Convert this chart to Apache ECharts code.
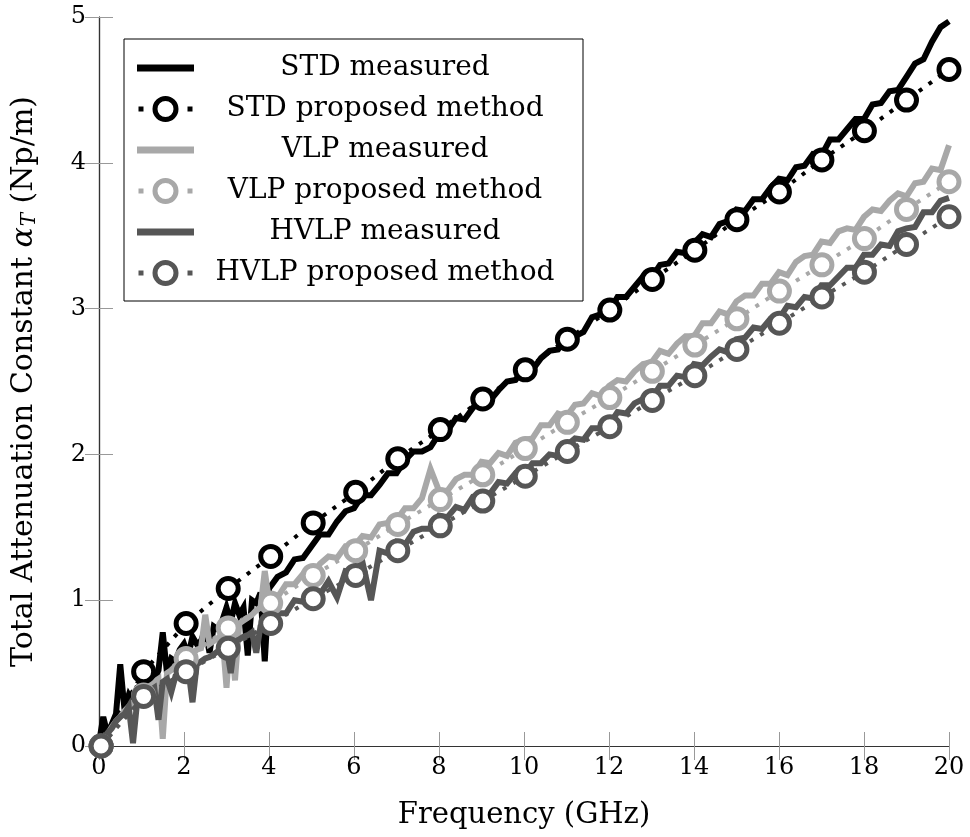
<!DOCTYPE html>
<html><head><meta charset="utf-8">
<script src="https://cdn.jsdelivr.net/npm/echarts@6/dist/echarts.min.js"></script>
<style>html,body{margin:0;padding:0;background:#fff}#c{width:970px;height:837px}</style>
</head><body><div id="c"></div>
<script>
// ---- data ----
const xTicks = [0, 2, 4, 6, 8, 10, 12, 14, 16, 18, 20];
const yTicks = [0, 1, 2, 3, 4, 5];
const measFreq = [0,0.1,0.2,0.3,0.4,0.5,0.6,0.7,0.8,0.9,1,1.1,1.2,1.3,1.4,1.5,1.6,1.7,1.8,1.9,2,2.1,2.2,2.3,2.4,2.5,2.6,2.7,2.8,2.9,3,3.1,3.2,3.3,3.4,3.5,3.6,3.7,3.8,3.9,4,
4.2,4.4,4.6,4.8,5,5.2,5.4,5.6,5.8,6,6.2,6.4,6.6,6.8,7,7.2,7.4,7.6,7.8,8,8.2,8.4,8.6,8.8,9,9.2,9.4,9.6,9.8,10,10.2,10.4,10.6,10.8,11,11.2,11.4,11.6,11.8,12,12.2,12.4,12.6,12.8,13,13.2,13.4,13.6,13.8,14,14.2,14.4,14.6,14.8,15,15.2,15.4,15.6,15.8,16,16.2,16.4,16.6,16.8,17,17.2,17.4,17.6,17.8,18,18.2,18.4,18.6,18.8,19,19.2,19.4,19.6,19.8,20];
const stdMeasured = [0.02,0.2,0.08,0.15,0.22,0.56,0.25,0.35,0.3,0.4,0.42,0.38,0.48,0.45,0.52,0.78,0.5,0.6,0.58,0.66,0.7,0.62,0.75,0.7,0.72,0.8,0.64,0.82,0.8,0.86,0.95,0.85,0.98,0.9,0.95,0.62,1.0,0.98,1.05,0.58,1.08,
1.16,1.19,1.28,1.29,1.37,1.45,1.45,1.54,1.61,1.63,
1.72,1.72,1.79,1.87,1.87,1.96,2.02,2.02,2.05,2.14,
2.16,2.25,2.24,2.32,2.39,2.37,2.44,2.50,2.51,2.59,
2.58,2.66,2.71,2.72,2.81,2.81,2.84,2.94,2.96,2.98,
3.08,3.08,3.15,3.22,3.21,3.30,3.31,3.39,3.38,3.45,
3.51,3.49,3.58,3.60,3.68,3.67,3.75,3.75,3.83,3.89,
3.88,3.97,3.98,4.06,4.05,4.16,4.16,4.23,4.30,4.30,
4.40,4.41,4.49,4.50,4.59,4.68,4.71,4.83,4.93,4.97];
const vlpMeasured = [0,0.05,0.08,0.13,0.17,0.2,0.24,0.27,0.3,0.33,0.36,0.38,0.42,0.44,0.46,0.05,0.5,0.52,0.55,0.58,0.6,0.62,0.64,0.66,0.67,0.9,0.7,0.72,0.74,0.77,0.4,0.8,0.45,0.84,0.86,0.88,0.9,0.93,0.95,1.2,1.0,
1.02,1.11,1.11,1.18,1.17,1.25,1.30,1.29,1.37,1.37,
1.44,1.43,1.52,1.53,1.55,1.63,1.63,1.70,1.90,1.75,
1.75,1.83,1.86,1.86,1.95,1.94,2.01,1.99,2.08,2.10,
2.11,2.20,2.20,2.28,2.26,2.34,2.35,2.42,2.40,2.47,
2.51,2.50,2.57,2.62,2.63,2.71,2.69,2.76,2.81,2.81,
2.90,2.90,2.98,2.96,3.05,3.09,3.09,3.17,3.17,3.25,
3.23,3.32,3.36,3.37,3.46,3.45,3.53,3.55,3.54,3.63,
3.68,3.67,3.74,3.79,3.77,3.86,3.87,3.96,3.95,4.12];
const hvlpMeasured = [0,0.05,0.09,0.12,0.17,0.2,0.22,0.27,0.02,0.31,0.34,0.35,0.38,0.4,0.18,0.44,0.46,0.37,0.48,0.5,0.52,0.53,0.3,0.56,0.58,0.6,0.61,0.63,0.65,0.66,0.68,0.5,0.72,0.73,0.75,0.76,0.78,0.64,0.82,0.84,0.86,
0.91,0.91,1.00,0.99,1.06,1.04,1.13,1.02,1.20,1.19,
1.26,1.00,1.34,1.32,1.40,1.38,1.47,1.49,1.49,1.58,
1.57,1.64,1.62,1.71,1.72,1.73,1.81,1.80,1.87,1.86,
1.94,1.94,2.00,1.99,2.06,2.11,2.10,2.18,2.18,2.20,
2.29,2.28,2.35,2.38,2.38,2.47,2.47,2.54,2.53,2.62,
2.61,2.67,2.72,2.70,2.79,2.80,2.87,2.86,2.93,2.93,
3.02,3.01,3.08,3.07,3.16,3.16,3.22,3.28,3.28,3.37,
3.37,3.44,3.43,3.53,3.55,3.56,3.66,3.66,3.74,3.76];
const propFreq = [0.05,1.05,2.05,3.04,4.04,5.04,6.04,7.03,8.03,9.03,10.03,11.02,12.02,13.02,14.02,15.01,16.01,17.01,18.01,19.0,20.0];
const stdProposed = [0,0.51,0.84,1.08,1.30,1.53,1.74,1.97,2.17,2.38,2.58,2.79,2.99,3.20,3.40,3.61,3.80,4.02,4.22,4.43,4.64];
const vlpProposed = [0,0.35,0.60,0.81,0.98,1.17,1.34,1.52,1.69,1.86,2.04,2.22,2.39,2.57,2.75,2.93,3.12,3.30,3.48,3.68,3.87];
const hvlpProposed = [0,0.34,0.51,0.67,0.84,1.01,1.17,1.34,1.51,1.68,1.85,2.02,2.19,2.37,2.54,2.72,2.90,3.08,3.25,3.44,3.63];

// ---- chart ----
const FONT = 'DejaVu Serif';
const C_STD = '#000000', C_VLP = '#a8a8a8', C_HVLP = '#565656';
const pairs = (xs, ys) => xs.map((x, i) => [x, ys[i]]);
const ICON_LINE = 'path://M0,0H57V7H0Z';
const ICON_RING = 'path://M0,10.5H5V15.5H0Z M14,13A13,13 0 1,0 40,13A13,13 0 1,0 14,13Z M19,13A8,8 0 1,1 35,13A8,8 0 1,1 19,13Z M49,10.5H54V15.5H49Z';
function measured(name, ys, color) {
  return {name, type:'line', data: pairs(measFreq, ys), symbol:'none', showSymbol:false,
    lineStyle:{width:6, color, join:'miter', miterLimit:4}, itemStyle:{color}, animation:false, clip:true};
}
function proposed(name, ys, color) {
  return {name, type:'line', data: pairs(propFreq, ys), symbol:'circle', symbolSize:20, showSymbol:true,
    lineStyle:{width:4, color, type:[4,8]}, itemStyle:{color:'#ffffff', borderColor:color, borderWidth:5},
    animation:false, clip:false};
}
const axisCommon = {
  axisLine:{show:true, lineStyle:{color:'#333', width:1.2}},
  axisTick:{show:true, inside:true, length:14, lineStyle:{color:'#999', width:1}},
  splitLine:{show:false}, minorTick:{show:false}
};
const legendItem = (name, icon, color) => ({name, icon, itemStyle:{color, borderWidth:0, opacity:1}});
const chart = echarts.init(document.getElementById('c'));
chart.setOption({
  animation:false,
  backgroundColor:'#fff',
  grid:{left:99, right:21, top:17, bottom:91, show:false},
  legend:{
    orient:'vertical', left:124, top:39, padding:[15,12,14,13],
    itemWidth:57, itemHeight:26, itemGap:13, selectedMode:false,
    backgroundColor:'#fff', borderColor:'#000', borderWidth:1, borderRadius:0,
    data:[
      legendItem('STD measured', ICON_LINE, C_STD),
      legendItem('STD proposed method', ICON_RING, C_STD),
      legendItem('VLP measured', ICON_LINE, C_VLP),
      legendItem('VLP proposed method', ICON_RING, C_VLP),
      legendItem('HVLP measured', ICON_LINE, C_HVLP),
      legendItem('HVLP proposed method', ICON_RING, C_HVLP)
    ],
    formatter: n => '{c|' + n + '}',
    textStyle:{fontFamily:FONT, fontSize:28, color:'#000',
      rich:{c:{width:372, align:'center', lineHeight:26, fontFamily:FONT, fontSize:28, color:'#000'}}}
  },
  xAxis:[
    Object.assign({type:'value', min:xTicks[0], max:xTicks[xTicks.length-1], interval:2, position:'bottom',
      axisLabel:{fontFamily:FONT, fontSize:24, color:'#000', margin:10},
      name:'Frequency (GHz)', nameLocation:'middle', nameGap:55,
      nameTextStyle:{fontFamily:FONT, fontSize:29, color:'#000'}}, axisCommon),
    Object.assign({type:'value', min:xTicks[0], max:xTicks[xTicks.length-1], interval:2, position:'top',
      axisLabel:{show:false}}, axisCommon)
  ],
  yAxis:[
    Object.assign({type:'value', min:yTicks[0], max:yTicks[yTicks.length-1], interval:1, position:'left',
      axisLabel:{fontFamily:FONT, fontSize:24, color:'#000', margin:13},
      name:'{n|Total Attenuation Constant }{a|α}{t|T}{n| (Np/m)}', nameLocation:'middle', nameGap:59, nameRotate:90,
      nameTextStyle:{fontFamily:FONT, fontSize:30, color:'#000',
        rich:{n:{fontFamily:FONT, fontSize:30, color:'#000'},
              a:{fontFamily:FONT, fontSize:30, fontStyle:'italic', color:'#000'},
              t:{fontFamily:FONT, fontSize:20, fontStyle:'italic', color:'#000', padding:[12,0,0,1]}}}}, axisCommon),
    Object.assign({type:'value', min:yTicks[0], max:yTicks[yTicks.length-1], interval:1, position:'right',
      axisLabel:{show:false}}, axisCommon)
  ],
  series:[
    measured('STD measured', stdMeasured, C_STD),
    proposed('STD proposed method', stdProposed, C_STD),
    measured('VLP measured', vlpMeasured, C_VLP),
    proposed('VLP proposed method', vlpProposed, C_VLP),
    measured('HVLP measured', hvlpMeasured, C_HVLP),
    proposed('HVLP proposed method', hvlpProposed, C_HVLP)
  ]
});
</script></body></html>
